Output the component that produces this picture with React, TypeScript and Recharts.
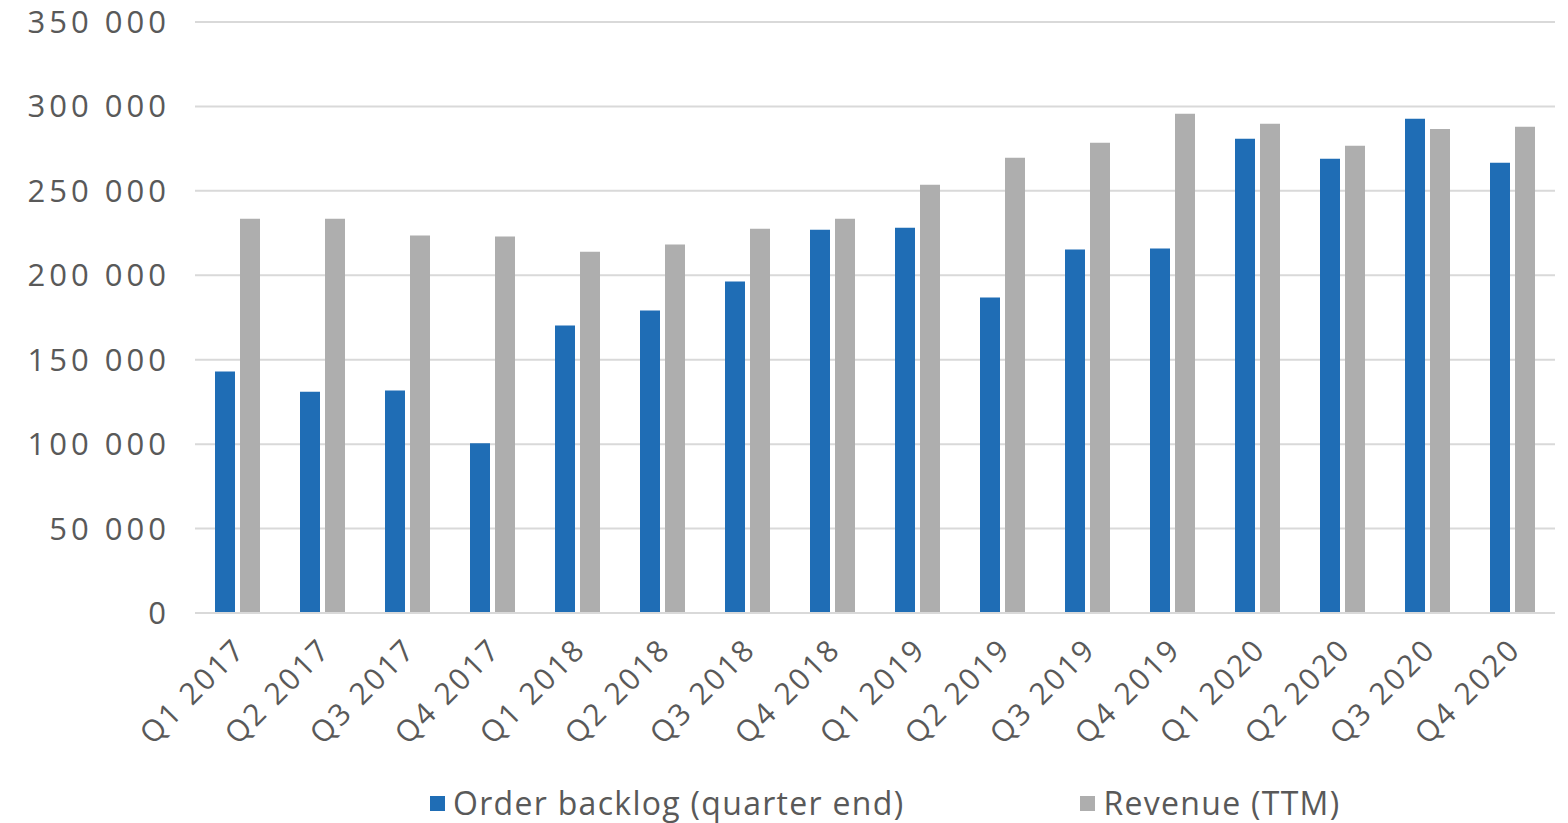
import React from "react";
import { BarChart, Bar, XAxis, YAxis, CartesianGrid, Legend } from "recharts";

const quarters = [
  "Q1 2017", "Q2 2017", "Q3 2017", "Q4 2017",
  "Q1 2018", "Q2 2018", "Q3 2018", "Q4 2018",
  "Q1 2019", "Q2 2019", "Q3 2019", "Q4 2019",
  "Q1 2020", "Q2 2020", "Q3 2020", "Q4 2020",
];

const orderBacklog = [
  143000, 131000, 131800, 100500,
  170300, 179100, 196300, 227000,
  228200, 186800, 215200, 215800,
  280800, 269000, 292700, 266600,
];

const revenueTtm = [
  233500, 233500, 223500, 222900,
  214000, 218200, 227600, 233500,
  253600, 269600, 278500, 295600,
  289700, 276700, 286700, 287900,
];

const yTicks = [0, 50000, 100000, 150000, 200000, 250000, 300000, 350000];

const data = quarters.map((q, i) => ({
  quarter: q,
  backlog: orderBacklog[i],
  revenue: revenueTtm[i],
}));

const FONT = "'Open Sans', sans-serif";
const TEXT = "#595959";
const BLUE = "#1F6DB5";
const GREY = "#AEAEAE";

const fmt = (v: number) => String(v).replace(/\B(?=(\d{3})+(?!\d))/g, " ");

function QuarterTick({ x, y, payload }: any) {
  const ax = x + 10;
  const ay = y + 30;
  return (
    <text
      x={ax}
      y={ay}
      transform={`rotate(-45, ${ax}, ${ay})`}
      textAnchor="end"
      fill={TEXT}
      fontSize={30}
      letterSpacing={2.5}
      fontFamily={FONT}
    >
      {payload.value}
    </text>
  );
}

function LegendBox() {
  const items = [
    { label: "Order backlog (quarter end)", color: BLUE },
    { label: "Revenue (TTM)", color: GREY },
  ];
  return (
    <div style={{ display: "flex", gap: 176, paddingLeft: 430, fontFamily: FONT, color: TEXT, fontSize: 32, letterSpacing: 1.3, lineHeight: "40px" }}>
      {items.map((it) => (
        <div key={it.label} style={{ display: "flex", alignItems: "center", gap: 8 }}>
          <span style={{ width: 15, height: 15, background: it.color, display: "inline-block" }} />
          <span>{it.label}</span>
        </div>
      ))}
    </div>
  );
}

export default function App() {
  return (
    <div style={{ position: "absolute", left: 0, top: 0, background: "#fff" }}>
      <BarChart
        width={1568}
        height={823}
        data={data}
        margin={{ top: 22, right: 13, left: 0, bottom: 0 }}
        barSize={20}
        barGap={5}
      >
        <CartesianGrid vertical={false} stroke="#D9D9D9" strokeWidth={2} />
        <XAxis
          dataKey="quarter"
          interval={0}
          height={170}
          axisLine={{ stroke: "#D9D9D9", strokeWidth: 2 }}
          tickLine={false}
          tick={<QuarterTick />}
        />
        <YAxis
          width={195}
          domain={[0, 350000]}
          ticks={yTicks}
          axisLine={false}
          tickLine={false}
          tickMargin={19}
          tickFormatter={fmt}
          tick={{ fill: TEXT, fontSize: 31, fontFamily: FONT, letterSpacing: 4 }}
        />
        <Legend verticalAlign="bottom" align="left" height={40} content={<LegendBox />} />
        <Bar dataKey="backlog" name="Order backlog (quarter end)" fill={BLUE} isAnimationActive={false} />
        <Bar dataKey="revenue" name="Revenue (TTM)" fill={GREY} isAnimationActive={false} />
      </BarChart>
    </div>
  );
}
